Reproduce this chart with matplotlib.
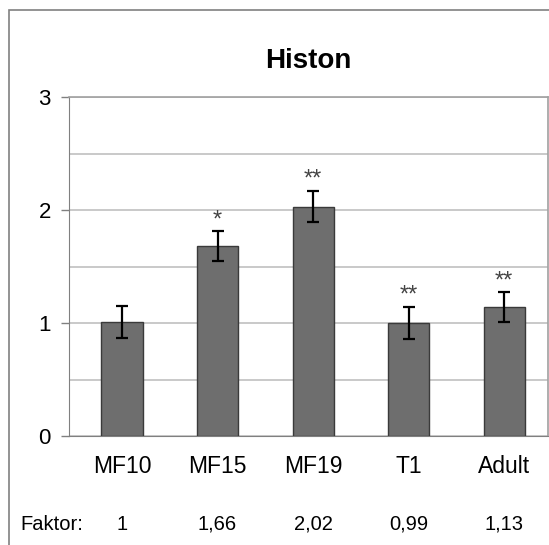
import numpy as np
import matplotlib.pyplot as plt
from matplotlib.patches import Rectangle

categories = ['MF10', 'MF15', 'MF19', 'T1', 'Adult']
values = [1.01, 1.68, 2.03, 1.00, 1.14]
errors = [0.14, 0.13, 0.14, 0.14, 0.13]
stars = ['', '*', '**', '**', '**']
faktor = ['1', '1,66', '2,02', '0,99', '1,13']

plt.rcParams['font.family'] = ['Liberation Sans', 'DejaVu Sans']

fig = plt.figure(figsize=(5.49, 5.45), dpi=100)

# outer chart border (cut off at right and bottom)
fig.patches.append(Rectangle((9 / 549, -0.05), 1.1, 1 - 10 / 545 + 0.05,
                             transform=fig.transFigure, fill=False,
                             edgecolor='#808080', linewidth=1.2))

ax = fig.add_axes([69 / 549, 1 - 436 / 545, (548 - 69) / 549, (436 - 97) / 545])

x = np.arange(len(categories))
ax.bar(x, values, width=0.43, color='#6e6e6e', edgecolor='#3a3a3a', linewidth=1, zorder=3)
ax.errorbar(x, values, yerr=errors, fmt='none', ecolor='black',
            elinewidth=1.6, capsize=4.5, capthick=1.6, zorder=4)

for i in range(len(x)):
    if stars[i]:
        ax.text(x[i], values[i] + errors[i] + 0.1, stars[i], ha='center', va='center',
                fontsize=17, color='#444444')

ax.set_xlim(-0.555, 4.46)
ax.set_ylim(0, 3)
ax.set_yticks([0, 1, 2, 3])
ax.set_yticks([0.5, 1.5, 2.5], minor=True)
ax.yaxis.grid(True, which='both', color='#c0c0c0', linewidth=1.2, zorder=0)
ax.set_xticks(x)
ax.set_xticklabels(categories, fontsize=16.5)
ax.tick_params(axis='x', length=0, pad=14)
ax.tick_params(axis='y', which='major', length=6, width=1, color='#808080',
               labelsize=16, pad=7)
ax.tick_params(axis='y', which='minor', length=0)

for side in ['top', 'right']:
    ax.spines[side].set_color('#a0a0a0')
    ax.spines[side].set_linewidth(1.2)
ax.spines['left'].set_color('#808080')
ax.spines['bottom'].set_color('#808080')

ax.set_title('Histon', fontsize=20, fontweight='bold', pad=21)

# Faktor row under the category labels
fig.text(52 / 549, 1 - 524 / 545, 'Faktor:', ha='center', va='center', fontsize=14.5)
for i in range(len(x)):
    xf = ax.transData.transform((x[i], 0))[0] / fig.bbox.width
    fig.text(xf, 1 - 524 / 545, faktor[i], ha='center', va='center', fontsize=14.5)

fig.savefig('out.png', dpi=100)
